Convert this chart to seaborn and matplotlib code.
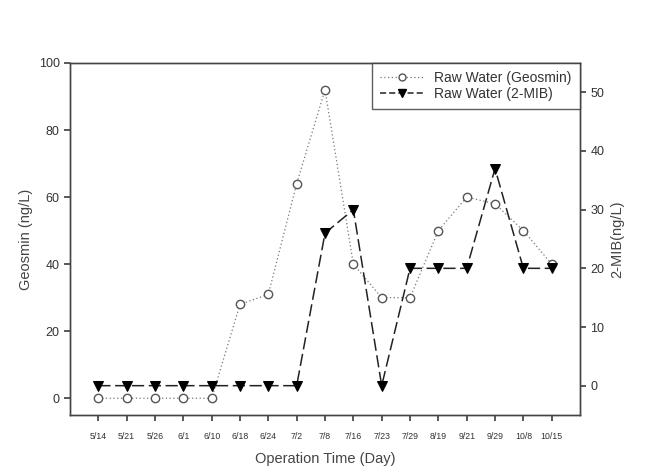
import numpy as np
import pandas as pd
import seaborn as sns
import matplotlib
matplotlib.use("Agg")
import matplotlib.pyplot as plt
from matplotlib.lines import Line2D


# 데이터
dates = ["5/14", "5/21", "5/26", "6/1", "6/10", "6/18", "6/24", "7/2", "7/8",
         "7/16", "7/23", "7/29", "8/19", "9/21", "9/29", "10/8", "10/15"]
geosmin = [0, 0, 0, 0, 0, 28, 31, 64, 92, 40, 30, 30, 50, 60, 58, 50, 40]
mib = [0, 0, 0, 0, 0, 0, 0, 0, 26, 30, 0, 20, 20, 20, 37, 20, 20]

df = pd.DataFrame({"pos": np.arange(len(dates)), "date": dates,
                   "geosmin": geosmin, "mib": mib})


# 스타일
sns.set_theme(style="white")
plt.rcParams["font.family"] = ["Liberation Sans", "DejaVu Sans"]

fig = plt.figure(figsize=(6.51, 4.70), dpi=100)
ax = fig.add_axes([0.1075, 0.117, 0.7835, 0.749])
ax2 = ax.twinx()

sns.lineplot(data=df, x="pos", y="geosmin", ax=ax, color="#777777",
             linestyle=(0, (1, 2)), linewidth=0.9, marker="o", markersize=6,
             markerfacecolor="white", markeredgecolor="#555555",
             markeredgewidth=1.0)

sns.lineplot(data=df, x="pos", y="mib", ax=ax2, color="#222222",
             linestyle=(0, (8, 3)), linewidth=1.1, marker="v", markersize=7,
             markerfacecolor="black", markeredgecolor="black")

# 축 설정
ax.set_xlim(-1, len(dates))
ax.set_ylim(-5, 100)
ax2.set_ylim(-5, 55)
ax.set_xticks(df["pos"])
ax.set_xticklabels(dates, fontsize=6.3, color="#333333")
ax.set_yticks([0, 20, 40, 60, 80, 100])
ax2.set_yticks([0, 10, 20, 30, 40, 50])
ax.tick_params(axis="y", labelsize=9, labelcolor="#333333", direction="out",
               length=4, color="#444444", left=True)
ax.tick_params(axis="x", direction="out", length=4, color="#444444", bottom=True, pad=8)
ax2.tick_params(axis="y", labelsize=9, labelcolor="#333333", direction="out",
                length=4, color="#444444", right=True)

for a in (ax, ax2):
    for s in a.spines.values():
        s.set_color("#444444")
        s.set_linewidth(1.0)

ax.set_xlabel("Operation Time (Day)", fontsize=10.5, color="#444444", labelpad=8)
ax.set_ylabel("Geosmin (ng/L)", fontsize=10.5, color="#444444")
ax2.set_ylabel("2-MIB(ng/L)", fontsize=10.5, color="#444444")

# 범례
handles = [
    Line2D([], [], color="#777777", linestyle=(0, (1, 2)), linewidth=0.9, marker="o",
           markersize=5, markerfacecolor="white", markeredgecolor="#555555"),
    Line2D([], [], color="#222222", linestyle=(0, (4, 2)), linewidth=1.1, marker="v",
           markersize=6, markerfacecolor="black", markeredgecolor="black"),
]
leg = ax2.legend(handles, ["Raw Water (Geosmin)", "Raw Water (2-MIB)"],
                 loc="upper right", borderaxespad=0, fancybox=False,
                 fontsize=10, frameon=True, handlelength=3.2, handletextpad=0.7,
                 labelspacing=0.1, borderpad=0.6, labelcolor="#333333")
leg.get_frame().set_edgecolor("#333333")
leg.get_frame().set_linewidth(1.0)

plt.savefig("out.png", dpi=100)
plt.close()
